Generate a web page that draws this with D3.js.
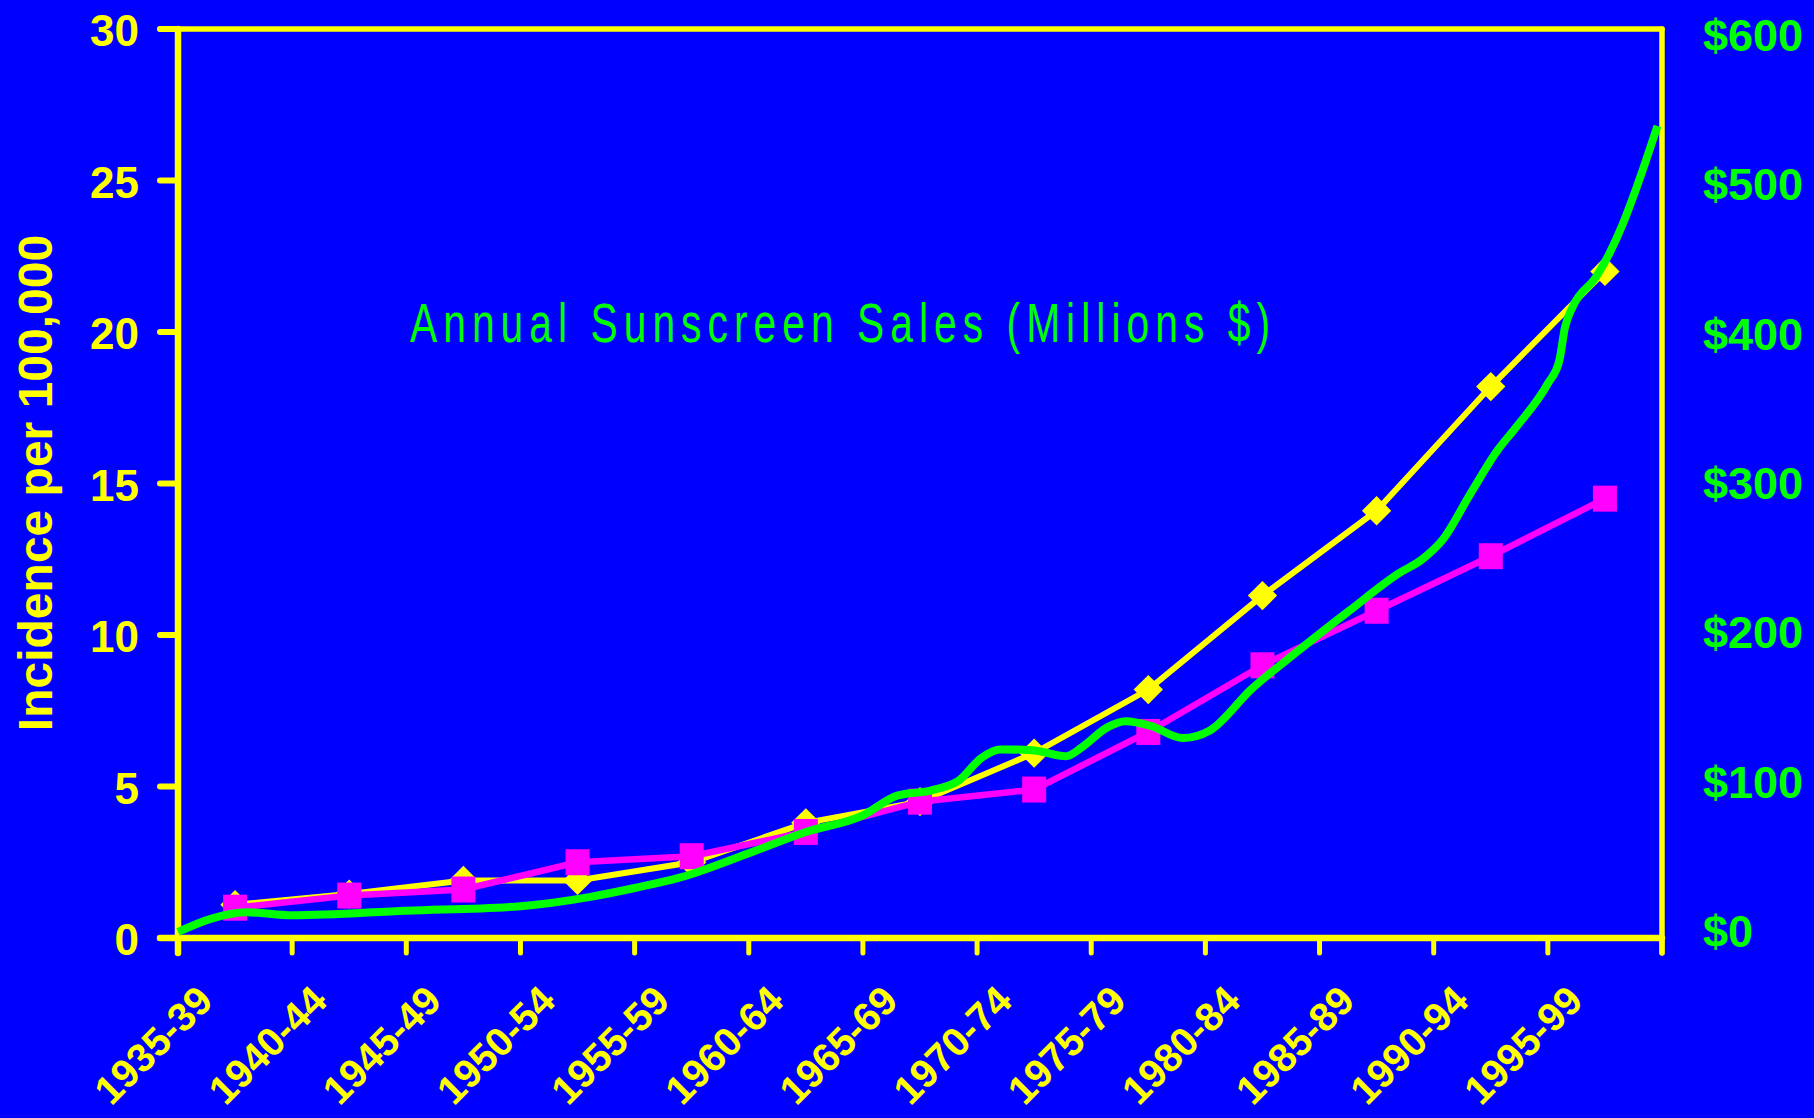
<!DOCTYPE html>
<html>
<head>
<meta charset="utf-8">
<script src="https://cdn.jsdelivr.net/npm/d3@7"></script>
<style>
body { margin: 0; background: #0000ff; }
text { font-family: "Liberation Sans", Arial, sans-serif; }
</style>
</head>
<body>
<svg id="chart"></svg>
<script>
// five-year periods on the x axis
var periods = ["1935-39","1940-44","1945-49","1950-54","1955-59","1960-64","1965-69",
               "1970-74","1975-79","1980-84","1985-89","1990-94","1995-99"];
// incidence per 100,000 (yellow diamonds)
var incidenceYellow = [1.1,1.45,1.9,1.9,2.5,3.8,4.5,6.1,8.2,11.3,14.1,18.2,22.0];
// incidence per 100,000 (magenta squares)
var incidenceMagenta = [1.0,1.4,1.6,2.5,2.7,3.5,4.5,4.9,6.8,9.0,10.8,12.6,14.5];
// annual sunscreen sales, millions $
var salesYears = [1935,1936.5,1938,1940,1945,1950,1953,1955,1957,1960,1962.5,1965,1966.5,1968,
                  1969.2,1970.2,1971,1972.4,1973.9,1974.6,1975.7,1976.5,1977.6,1979,1980.2,1982,
                  1984.1,1986.3,1988.5,1989.5,1990.4,1991.6,1992.8,1993.6,1995,1995.5,1995.75,
                  1996.1,1997.1,1997.7,1998.3,1998.9,1999.8];
var salesValues = [4,13,17,15,18,21,27,33,40,56,70,81,94,97.5,
                   104,119,124.5,124,120,126,139,143,140,132,137,164,
                   190,216,241,250,263,293,322,337,366,381,403,
                   417,436,452,472,496,536];
var leftTicks = [0,5,10,15,20,25,30];
var rightTicks = [0,100,200,300,400,500,600];
var yearTicks = [1935,1940,1945,1950,1955,1960,1965,1970,1975,1980,1985,1990,1995,2000];

var W = 1814, H = 1118;
var plot = {left:178, right:1662, top:29, bottom:938};
var yellow = "#ffff00", magenta = "#ff00ff", green = "#00ff00", blue = "#0000ff";

var svg = d3.select("#chart").attr("width", W).attr("height", H);
svg.append("rect").attr("width", W).attr("height", H).attr("fill", blue);

var xBand = d3.scaleBand().domain(periods).range([plot.left, plot.right]).padding(0);
var xYear = d3.scaleLinear().domain([1935, 2000]).range([plot.left, plot.right]);
var yLeft = d3.scaleLinear().domain([0, 30]).range([plot.bottom, plot.top]);
var yRight = d3.scaleLinear().domain([0, 600]).range([plot.bottom, plot.top]);
// the $ labels of the original sit a little above the gridline spacing
var yRightLabel = d3.scaleLinear().domain([0, 600]).range([931, 35]);
var cx = function(d, i) { return xBand(periods[i]) + xBand.bandwidth() / 2; };

// frame
svg.append("line").attr("x1", 160).attr("x2", plot.right).attr("y1", plot.top).attr("y2", plot.top)
    .attr("stroke", yellow).attr("stroke-width", 5.5).attr("stroke-linecap", "round");
svg.append("line").attr("x1", plot.right).attr("x2", plot.right).attr("y1", plot.top).attr("y2", plot.bottom + 15)
    .attr("stroke", yellow).attr("stroke-width", 5.5).attr("stroke-linecap", "round");
svg.append("line").attr("x1", plot.left).attr("x2", plot.left).attr("y1", plot.top).attr("y2", plot.bottom + 15)
    .attr("stroke", yellow).attr("stroke-width", 6.5).attr("stroke-linecap", "round");
svg.append("line").attr("x1", 160).attr("x2", plot.right).attr("y1", plot.bottom).attr("y2", plot.bottom)
    .attr("stroke", yellow).attr("stroke-width", 6.5).attr("stroke-linecap", "round");

// left ticks + labels
svg.selectAll(".ltick").data(leftTicks).enter().append("line").attr("class", "ltick")
    .attr("x1", 160).attr("x2", plot.left)
    .attr("y1", function(d) { return yLeft(d); }).attr("y2", function(d) { return yLeft(d); })
    .attr("stroke", yellow).attr("stroke-width", 6).attr("stroke-linecap", "round");
svg.selectAll(".llabel").data(leftTicks).enter().append("text").attr("class", "llabel")
    .attr("x", 139).attr("y", function(d) { return yLeft(d) + 17; })
    .attr("text-anchor", "end").attr("font-size", 44).attr("font-weight", "bold")
    .attr("fill", yellow).text(function(d) { return d; });

// right labels (no ticks)
svg.selectAll(".rlabel").data(rightTicks).enter().append("text").attr("class", "rlabel")
    .attr("x", 1703).attr("y", function(d) { return yRightLabel(d) + 16; })
    .attr("font-size", 45).attr("font-weight", "bold")
    .attr("fill", green).text(function(d) { return "$" + d; });

// bottom ticks at period boundaries
svg.selectAll(".btick").data(yearTicks).enter().append("line").attr("class", "btick")
    .attr("x1", function(d) { return xYear(d); }).attr("x2", function(d) { return xYear(d); })
    .attr("y1", plot.bottom).attr("y2", plot.bottom + 15)
    .attr("stroke", yellow).attr("stroke-width", 5).attr("stroke-linecap", "round");
svg.selectAll(".blabel").data(periods).enter().append("text").attr("class", "blabel")
    .attr("transform", function(d, i) { return "translate(" + (cx(d, i) - 20) + ",1003) rotate(-45)"; })
    .attr("text-anchor", "end").attr("font-size", 40).attr("font-weight", "bold")
    .attr("fill", yellow).text(function(d) { return d; });

// y axis title
svg.append("text").attr("transform", "translate(52,483) rotate(-90)")
    .attr("text-anchor", "middle").attr("font-size", 48).attr("font-weight", "bold")
    .attr("fill", yellow).text("Incidence per 100,000");

// sales caption
svg.append("g").attr("transform", "translate(410,342) scale(0.74,1)")
  .append("text").attr("x", 0).attr("y", 0)
    .attr("font-size", 55).attr("fill", green)
    .attr("textLength", 860 / 0.74).attr("lengthAdjust", "spacing")
    .text("Annual Sunscreen Sales (Millions $)");

// yellow series
var lineInc = d3.line().x(cx).y(function(d) { return yLeft(d); });
svg.append("path").datum(incidenceYellow).attr("d", lineInc)
    .attr("fill", "none").attr("stroke", yellow).attr("stroke-width", 6);
svg.selectAll(".diam").data(incidenceYellow).enter().append("path").attr("class", "diam")
    .attr("d", d3.symbol(d3.symbolSquare, 430))
    .attr("transform", function(d, i) { return "translate(" + cx(d, i) + "," + yLeft(d) + ") rotate(45)"; })
    .attr("fill", yellow);

// magenta series
svg.append("path").datum(incidenceMagenta).attr("d", lineInc)
    .attr("fill", "none").attr("stroke", magenta).attr("stroke-width", 6.5);
svg.selectAll(".sq").data(incidenceMagenta).enter().append("rect").attr("class", "sq")
    .attr("x", function(d, i) { return cx(d, i) - 12; })
    .attr("y", function(d) { return yLeft(d) - 13; })
    .attr("width", 24).attr("height", 26).attr("fill", magenta);

// green sales curve
var sales = salesYears.map(function(y, i) { return {year: y, value: salesValues[i]}; });
var lineSales = d3.line().curve(d3.curveMonotoneX)
    .x(function(d) { return xYear(d.year); })
    .y(function(d) { return yRight(d.value); });
svg.append("path").datum(sales).attr("d", lineSales)
    .attr("fill", "none").attr("stroke", green).attr("stroke-width", 8);
</script>
</body>
</html>
